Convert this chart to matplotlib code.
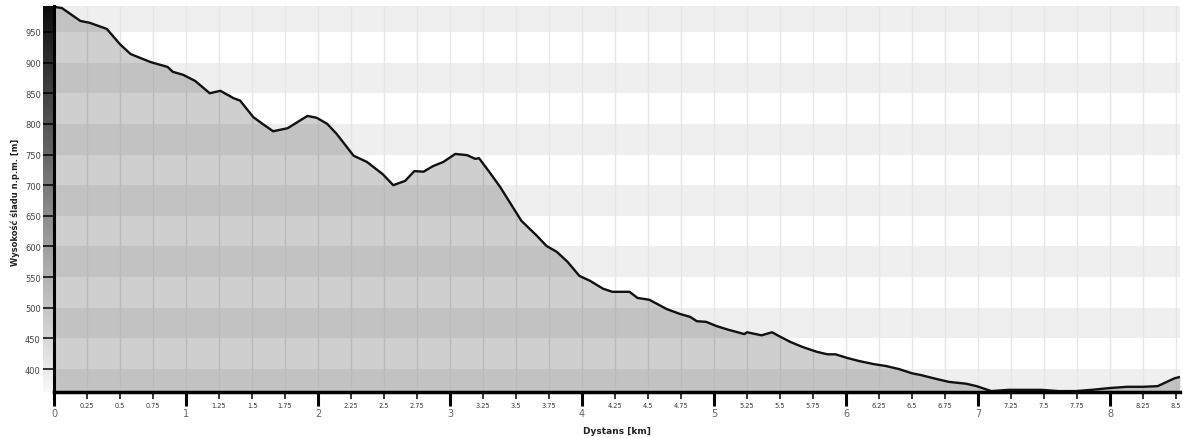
import numpy as np
import matplotlib
matplotlib.use("Agg")
import matplotlib.pyplot as plt

# Elevation profile (distance in km, elevation in m a.s.l.)
distance_km = [0.00, 0.06, 0.20, 0.27, 0.40, 0.50, 0.58, 0.73, 0.86, 0.90, 0.98, 1.07, 1.18, 1.26,
               1.36, 1.41, 1.51, 1.58, 1.66, 1.77, 1.86, 1.92, 1.99, 2.07, 2.14, 2.27, 2.37, 2.49,
               2.57, 2.66, 2.73, 2.80, 2.87, 2.95, 3.04, 3.13, 3.19, 3.22, 3.30, 3.38, 3.45, 3.54,
               3.66, 3.73, 3.81, 3.89, 3.98, 4.06, 4.16, 4.23, 4.36, 4.42, 4.51, 4.64, 4.74, 4.82,
               4.87, 4.94, 5.02, 5.11, 5.23, 5.25, 5.36, 5.44, 5.49, 5.58, 5.67, 5.78, 5.86, 5.92,
               6.01, 6.10, 6.21, 6.30, 6.40, 6.50, 6.57, 6.68, 6.78, 6.91, 6.99, 7.10, 7.23, 7.48,
               7.61, 7.74, 7.86, 8.00, 8.13, 8.25, 8.36, 8.43, 8.49, 8.53]
elevation_m = [991, 989, 968, 965, 955, 930, 914, 901, 893, 885, 880, 870, 850, 854,
               842, 838, 811, 800, 788, 793, 805, 813, 810, 800, 784, 748, 738, 718,
               700, 707, 723, 722, 731, 738, 751, 749, 743, 744, 721, 697, 673, 642,
               617, 601, 591, 575, 552, 544, 531, 526, 526, 516, 513, 498, 490, 485,
               478, 477, 470, 464, 457, 460, 455, 460, 454, 444, 436, 428, 424, 424,
               418, 413, 408, 405, 400, 393, 390, 384, 379, 376, 372, 364, 366, 366,
               364, 364, 366, 369, 371, 371, 372, 379, 385, 387]

major_ticks = [0, 1, 2, 3, 4, 5, 6, 7, 8]
minor_ticks = [q / 4 for q in range(1, 35) if q % 4 != 0]
minor_labels = [f"{v:g}" for v in minor_ticks]
y_ticks = list(range(400, 951, 50))

W, H = 1183, 439
fig = plt.figure(figsize=(W / 100, H / 100), dpi=100, facecolor="white")

left_px, right_px, top_px, bottom_px = 54, 1180, 7, 393
ax_rect = [left_px / W, 1 - bottom_px / H, (right_px - left_px) / W, (bottom_px - top_px) / H]

# gradient bar along the y axis
gax = fig.add_axes([43 / W, ax_rect[1], 10 / W, ax_rect[3]])
grad = np.linspace(0.05, 0.97, 256).reshape(-1, 1)
gax.imshow(grad, aspect="auto", cmap="gray", vmin=0, vmax=1, origin="upper",
           extent=[0, 1, 0, 1])
gax.set_axis_off()

ax = fig.add_axes(ax_rect)
ax.set_facecolor("white")
ymin, ymax = 362.5, 992.4
xmax = 8.53
ax.set_xlim(0, xmax)
ax.set_ylim(ymin, ymax)

# alternating horizontal bands
for lower in range(350, 1000, 50):
    if (lower // 50) % 2 == 1:
        ax.axhspan(lower, lower + 50, color="#efefef", lw=0, zorder=0.1)

# vertical grid lines
for v in sorted(major_ticks + minor_ticks):
    if v > 0:
        ax.axvline(v, color="#e6e6e6", lw=1.0, zorder=0.5)

ax.fill_between(distance_km, elevation_m, ymin, color="black", alpha=0.19, lw=0, zorder=1)
ax.plot(distance_km, elevation_m, color="#111111", lw=1.7, zorder=2, solid_joinstyle="round")

ax.set_xticks(major_ticks)
ax.set_xticklabels([str(v) for v in major_ticks])
ax.set_xticks(minor_ticks, minor=True)
ax.set_xticklabels(minor_labels, minor=True)
ax.set_yticks(y_ticks)
ax.set_yticklabels([str(v) for v in y_ticks])

ax.tick_params(axis="x", which="major", direction="out", length=10, width=2.2,
               pad=1.8, labelsize=7, labelcolor="#666666", color="black")
ax.tick_params(axis="x", which="minor", direction="out", length=5, width=1.1,
               pad=2.5, labelsize=4.7, labelcolor="#333333", color="black")
ax.tick_params(axis="y", which="major", direction="out", length=8, width=1.1,
               pad=1.5, labelsize=6, labelcolor="#444444", color="black")

for s in ["top", "right"]:
    ax.spines[s].set_visible(False)
ax.spines["left"].set_linewidth(2.2)
ax.spines["bottom"].set_linewidth(2.5)

fig.text(617 / W, 1 - 432 / H, "Dystans [km]", ha="center", va="center",
         fontsize=6.5, fontweight="bold", color="#222222")
fig.text(15 / W, 1 - 202 / H, "Wysokość śladu n.p.m. [m]", ha="center", va="center",
         rotation=90, fontsize=6, fontweight="bold", color="#222222")

fig.savefig("out.png", dpi=100, facecolor="white")
